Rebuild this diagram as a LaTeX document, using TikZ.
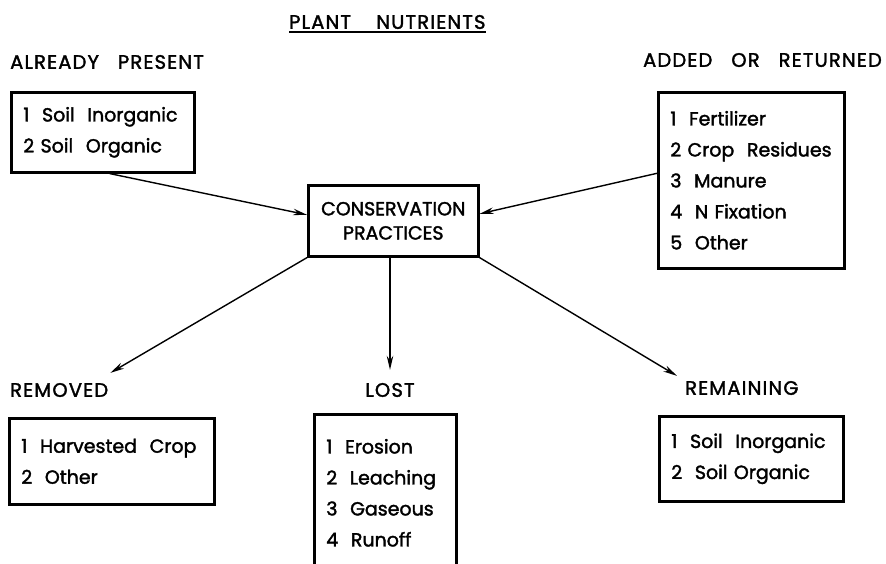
\documentclass[tikz,border=0pt]{standalone}
\usepackage{fontspec}
\setmainfont{Poppins}[UprightFeatures={FakeBold=1.8}]
\usetikzlibrary{arrows.meta}
\newcommand{\boxLine}{2.6pt}
\newcommand{\arrowLine}{1.4pt}
\newcommand{\listFont}{\fontsize{19}{31}\selectfont}
\newcommand{\headFont}{\fontsize{19.5}{24}\selectfont\addfontfeature{LetterSpace=6}}
\newcommand{\wordGap}{\hspace{19pt}}

\begin{document}
\begin{tikzpicture}[x=1pt, y=-1pt]
  \tikzset{
    listbox/.style={draw, line width=\boxLine, anchor=north west, align=left,
      inner xsep=12pt, inner ysep=0pt, font=\listFont},
    heading/.style={inner sep=0pt, font=\headFont},
    flow/.style={line width=\arrowLine, -{Stealth[length=14pt, width=6.5pt]}}
  }
  \useasboundingbox (0,0) rectangle (886,563);
  % title
  \node[heading, anchor=west] (title) at (289,22) {PLANT\wordGap\ NUTRIENTS};
  \draw[line width=1.4pt] ([yshift=-3pt]title.south west) -- ([yshift=-3pt]title.south east);
  % headings
  \node[heading, anchor=west] (presentlabel) at (10,62) {ALREADY\wordGap PRESENT};
  \node[heading, anchor=east] (addedlabel) at (882,60) {ADDED\wordGap OR\wordGap RETURNED};
  \node[heading, anchor=west] (removedlabel) at (10,390) {REMOVED};
  \node[heading] (lostlabel) at (390,390) {LOST};
  \node[heading, anchor=west] (remaininglabel) at (685,388) {REMAINING};
  % boxes
  \node[listbox, text width=159pt, minimum height=80pt] (present) at (10,91)
    {1\ \ Soil\ \ Inorganic\\2\ Soil\ \ Organic};
  \node[listbox, text width=162pt, minimum height=176pt] (added) at (657,91)
    {1\ \ Fertilizer\\2 Crop\ \ Residues\\3\ \ Manure\\4\ \ N Fixation\\5\ \ Other};
  \node[draw, line width=\boxLine, align=center, minimum width=170pt, minimum height=71pt,
    font=\listFont\linespread{0.78}\selectfont, anchor=north west] (cons) at (307,184)
    {CONSERVATION\\PRACTICES};
  \node[listbox, text width=181pt, minimum height=86pt] (removed) at (8,417)
    {1\ \ Harvested\ \ Crop\\2\ \ Other};
  \node[listbox, text width=118pt, minimum height=157pt] (lost) at (313,413)
    {1\ \ Erosion\\2\ \ Leaching\\3\ \ Gaseous\\4\ \ Runoff};
  \node[listbox, text width=160pt, minimum height=85pt] (remaining) at (658,415)
    {1\ \ Soil\ \ Inorganic\\2\ \ Soil\ Organic};
  % connectors
  \draw[flow] ([xshift=7pt]present.south) -- ([yshift=6pt]cons.west);
  \draw[flow] ([yshift=7pt]added.west) -- ([yshift=7pt]cons.east);
  \draw[flow] (cons.south west) -- ([shift={(2pt,10pt)}]removedlabel.north east);
  \draw[flow] (cons.south -| lostlabel.north) -- ([yshift=13pt]lostlabel.north);
  \draw[flow] (cons.south east) -- ([shift={(-8pt,5pt)}]remaininglabel.north west);
\end{tikzpicture}
\end{document}
